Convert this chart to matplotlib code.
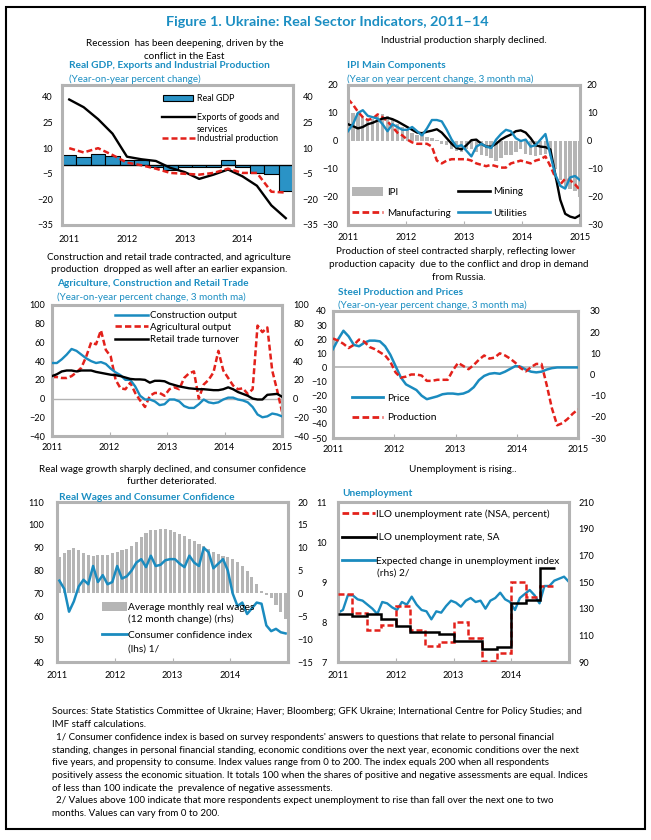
import numpy as np
import matplotlib
matplotlib.use("Agg")
import matplotlib.pyplot as plt
from matplotlib.patches import Patch, Rectangle
from matplotlib.lines import Line2D

plt.rcParams['font.family'] = ['Lato', 'DejaVu Sans']

# ---------------- data ----------------
quarters = ["2011Q1", "2011Q2", "2011Q3", "2011Q4", "2012Q1", "2012Q2", "2012Q3", "2012Q4",
            "2013Q1", "2013Q2", "2013Q3", "2013Q4", "2014Q1", "2014Q2", "2014Q3", "2014Q4"]
real_gdp = [5.9, 4.6, 6.6, 5.2, 3.0, 3.0, -1.3, -2.5, -1.1, -1.2, -1.2, 3.3, -1.1, -4.6, -5.3, -14.8]
exports = [38.5, 34, 27, 18.5, 5, 3.5, 2.5, -1.5, -4, -8, -5.5, -2.5, -6.5, -12, -23.5, -31]
ind_prod = [10, 7.5, 10, 6, 1.5, 0, -2, -4.5, -5, -5.5, -4.5, -2, -4.5, -4.5, -15.5, -16]

ipi = [11, 10, 10, 9, 8, 8, 9, 9.5, 9, 8, 6, 5, 4, 3, 2, 2, 1.5, 1, 0.5, -1,
       -1.5, -3, -3.5, -4, -3, -3, -4, -5, -5.5, -6, -7, -6, -5, -5, -4, -3, -4.5, -5, -5.5, -5,
       -4.5, -5.5, -10, -14, -16.5, -17, -18, -20]
mining = [6, 5.3, 4.5, 5, 6, 6.5, 7.3, 8, 8.3, 7.8, 7, 6, 5, 4, 3, 2.8, 3.3, 3.7, 4.2, 3,
          1, -1, -2.5, -3, -1.5, 0.3, 0.5, -1, -2, -2, -1, 0.5, 1.5, 2.3, 3.5, 3.8, 3, 1, -1.5, -2,
          -2.2, -3, -12, -21, -26, -27, -27.5, -26.5]
manufacturing = [15, 13, 10.5, 8.5, 7.5, 8, 9.5, 8.5, 7, 5, 3, 2, 0.5, -0.5, -1, -1, -1, -2, -7, -8,
                 -7, -6.5, -6.5, -6.5, -6.5, -7, -8, -8.5, -9, -8.5, -9, -9.5, -9.5, -8, -7.5, -7, -7.5, -8, -7, -6.5,
                 -5.5, -9, -13, -15.5, -13.5, -14, -15.5, -17.5]
utilities = [3.5, 6, 10, 11, 9, 8.5, 8, 6, 3.5, 6, 5, 4, 4, 5, 3.5, 2, 4.5, 7.5, 7.5, 7,
             4, 0.5, -2, -1.5, -3.5, -5.5, -2, -1, -2, -2.5, 0.5, 2.5, 4, 3.5, 1, 0, 0.5, -2, -1.5, 0.5,
             2.5, -5, -12, -16, -17, -13, -12.5, -14]

construction = [38, 38, 42, 47, 53, 51, 47, 43, 40, 38, 39, 37, 32, 28, 25, 20, 20, 13, 3, -1,
                -1, -3, -7, -6, -1, -1, -3, -8, -10, -10, -6, -1, -4, -5, -4, -1, 1, 1, -1, -2,
                -4, -9, -17, -20, -19, -16, -17, -19]
agriculture = [23, 23, 22, 22, 24, 28, 33, 45, 60, 58, 73, 52, 45, 20, 11, 10, 17, 6, -2, -9,
               3, 6, 6, 3, 10, 12, 10, 22, 27, 29, 0, 15, 20, 28, 51, 30, 22, 14, 10, 11,
               5, 10, 78, 71, 76, 30, 9, -14]
retail = [24, 26, 29, 30, 30, 29, 30, 30, 30, 28.5, 27.5, 26.5, 25.5, 25, 24, 22.5, 21, 20.5, 20.5, 20,
          17, 19, 19, 18.5, 16, 14.5, 13, 12, 11, 10.5, 10, 10, 9.5, 9, 9, 10, 12, 10, 7, 5,
          3, 0, -1, -1, 4, 4.5, 5, 2]

steel_price = [13, 20, 26, 22, 16, 15, 17.5, 19, 19, 18.5, 15, 9, 1, -7, -12, -14, -16, -20, -22.5, -21.5,
               -20.5, -19, -18.5, -18.5, -19, -18.5, -17, -14, -9, -6, -4.5, -4, -4.5, -3, -1, 1, 0.5, -1.5, -3, -3.5,
               -3, -1.5, -0.5, 0, 0, 0, 0, 0]
steel_prod = [17, 16, 14.5, 12.5, 14, 16.5, 15.5, 13, 12, 10.5, 9, 6, 1, -1.5, -1, 0, 0, -0.5, -3, -3,
              -2.5, -2.5, -2.5, 2, 5.5, 4, 2.5, 4.5, 7, 9, 7.5, 8, 10, 9, 7.5, 5.5, 3, 1.5, 3.5, 5,
              5, -5, -16, -24, -23, -21, -18.5, -16.5]

real_wages = [8.0, 8.8, 9.5, 10.0, 9.6, 8.8, 8.4, 8.2, 8.3, 8.4, 8.5, 8.8, 9.1, 9.4, 9.8, 10.4, 11.3, 12.4, 13.3, 13.8,
              13.9, 14.1, 14.2, 13.9, 13.4, 13.1, 12.6, 12.0, 11.4, 10.8, 10.4, 9.8, 9.1, 8.6, 8.2, 7.9, 7.6, 6.9, 6.1, 5.0,
              3.6, 2.0, 0.5, -0.3, -1.0, -2.5, -4.0, -5.5]
cons_conf = [75.6, 72, 62, 66.5, 73, 76, 74, 82, 75, 78, 74, 75, 82, 76.5, 77.5, 80, 83.5, 85, 81.5, 86.5,
             82, 82.5, 84.5, 85, 85, 83, 81.5, 86.5, 83.5, 82, 90, 88, 81, 83, 85, 80, 70, 64.5, 66, 61,
             63.5, 66, 65.5, 56, 53.5, 54.5, 53, 52.5]

ilo_nsa = [8.7, 8.22, 7.8, 7.93, 8.39, 7.8, 7.39, 7.51, 8.01, 7.6, 7.02, 7.22, 9.0, 8.63, 8.9]
ilo_sa = [8.2, 8.16, 8.2, 8.08, 7.91, 7.76, 7.74, 7.7, 7.53, 7.53, 7.33, 7.37, 8.47, 8.54, 9.34]
exp_unemp = [127, 129, 140, 140, 137, 136, 133, 130, 126, 135, 134, 131, 129, 135, 133, 139, 133, 129, 128, 122,
             128, 127, 132, 136, 134.5, 131.5, 136, 138, 135, 136, 130, 136, 138, 142, 137, 135, 129, 138, 141, 144,
             140, 134, 147, 147, 151, 152.5, 154, 150]

years4 = ["2011", "2012", "2013", "2014"]
years5 = ["2011", "2012", "2013", "2014", "2015"]

# ---------------- style ----------------
W, H = 651, 840
BLUE = '#1a8bbf'
TITLE_BLUE = '#1b8ec2'
RED = '#e3211b'
GRAYBAR = '#b5b5b5'
FRAME = '#b3b3b3'
GDPBLUE = '#2a93c6'
DASH = (0, (2.4, 1.2))
TS = 6.6

fig = plt.figure(figsize=(W / 100, H / 100), dpi=100)
fig.patch.set_facecolor('white')
renderer = fig.canvas.get_renderer()


def add_ax(l, t, r, b):
    ax = fig.add_axes([l / W, 1 - b / H, (r - l) / W, (b - t) / H])
    ax.patch.set_visible(False)
    for sp in ax.spines.values():
        sp.set_color(FRAME)
        sp.set_linewidth(2.2)
    ax.tick_params(axis='y', length=0, labelsize=TS)
    ax.tick_params(axis='x', direction='in', length=3, color=FRAME, labelsize=TS)
    tw = ax.twinx()
    tw.patch.set_visible(False)
    for sp in tw.spines.values():
        sp.set_visible(False)
    tw.tick_params(axis='y', length=0, labelsize=TS)
    return ax, tw


def ftext(x, y, s, size=7, width=None, ha='left', **kw):
    t = fig.text(x / W, 1 - y / H, s, fontsize=size, ha=ha, va='center', **kw)
    if width:
        w = t.get_window_extent(renderer).width
        t.set_fontsize(size * width / w)
    return t


def fit_size(s, width, size=7, **kw):
    t = fig.text(0, 0, s, fontsize=size, **kw)
    w = t.get_window_extent(renderer).width
    t.remove()
    return size * width / w


def key(handle, label, x, y, fs, hl_px, tp_px, hh=0.7):
    fpx = fs * 100 / 72
    fig.legend([handle], [label], loc='center left', bbox_to_anchor=(x / W, 1 - y / H),
               bbox_transform=fig.transFigure, frameon=False, borderpad=0, borderaxespad=0,
               handlelength=hl_px / fpx, handletextpad=tp_px / fpx, handleheight=hh, fontsize=fs)


# ---------------- title & subtitles ----------------
ftext(327, 21.5, "Figure 1. Ukraine: Real Sector Indicators, 2011\u201314", size=10, width=322,
      ha='center', fontweight='bold', color=TITLE_BLUE)

sub_fs = fit_size("Real wage growth sharply declined, and consumer confidence", 267)
ftext(185, 44, "Recession  has been deepening, driven by the", sub_fs, ha='center')
ftext(184, 56.5, "conflict in the East", sub_fs, ha='center')
ftext(464, 40.5, "Industrial production sharply declined.", sub_fs, ha='center')
ftext(169, 257.5, "Construction and retail trade contracted, and agriculture", sub_fs, ha='center')
ftext(169, 269, "production  dropped as well after an earlier expansion.", sub_fs, ha='center')
ftext(456, 252, "Production of steel contracted sharply, reflecting lower", sub_fs, ha='center')
ftext(459, 264.5, "production capacity  due to the conflict and drop in demand", sub_fs, ha='center')
ftext(459, 277, "from Russia.", sub_fs, ha='center')
ftext(173, 470, "Real wage growth sharply declined, and consumer confidence", sub_fs, ha='center')
ftext(172, 482, "further deteriorated.", sub_fs, ha='center')
ftext(463, 469, "Unemployment is rising..", sub_fs, ha='center')

pt_fs = fit_size("Real GDP, Exports and Industrial Production", 202, fontweight='bold')
pu_fs = fit_size("(Year-on-year percent change, 3 month ma)", 188)
ftext(69, 66, "Real GDP, Exports and Industrial Production", pt_fs, fontweight='bold', color=TITLE_BLUE)
ftext(69, 79, "(Year-on-year percent change)", pu_fs, color=TITLE_BLUE)
ftext(347, 65, "IPI Main Components", pt_fs, fontweight='bold', color=TITLE_BLUE)
ftext(347, 79, "(Year on year percent change, 3 month ma)", pu_fs, color=TITLE_BLUE)
ftext(57, 284, "Agriculture, Construction and Retail Trade", pt_fs, fontweight='bold', color=TITLE_BLUE)
ftext(57, 297.5, "(Year-on-year percent change, 3 month ma)", pu_fs, color=TITLE_BLUE)
ftext(338, 292.5, "Steel Production and Prices", pt_fs, fontweight='bold', color=TITLE_BLUE)
ftext(338, 305, "(Year-on-year percent change, 3 month ma)", pu_fs, color=TITLE_BLUE)
ftext(59, 497.5, "Real Wages and Consumer Confidence", pt_fs, fontweight='bold', color=TITLE_BLUE)
ftext(342, 493, "Unemployment", pt_fs, fontweight='bold', color=TITLE_BLUE)

# ---------------- panel 1 ----------------
a1, b1 = add_ax(62, 85, 293, 225)
q = np.arange(len(quarters))
a1.bar(q, real_gdp, width=1.0, color=GDPBLUE, edgecolor='black', linewidth=0.8, zorder=2)
a1.axhline(0, color='black', lw=0.9, zorder=2.5)
a1.plot(q, exports, color='black', lw=1.7, zorder=3)
a1.plot(q, ind_prod, color=RED, lw=1.8, ls=DASH, zorder=4)
yt1 = [40, 25, 10, -5, -20, -35]
for ax in (a1, b1):
    ax.set_ylim(-35, 47)
    ax.set_yticks(yt1)
a1.set_xlim(-0.5, len(quarters) - 0.5)
a1.set_xticks(q[::4])
a1.set_xticklabels(years4)
a1.tick_params(axis='x', length=0, pad=7)
a1.tick_params(axis='y', pad=6.5)
b1.tick_params(axis='y', pad=7)
key(Patch(facecolor=GDPBLUE, edgecolor='black', lw=0.8), "Real GDP", 163, 98.5, 6.4, 30, 4, hh=0.6)
key(Line2D([], [], color='black', lw=1.7), "Exports of goods and", 162, 117.5, 6.4, 33, 2)
ftext(197, 129.5, "services", 6.4)
key(Line2D([], [], color=RED, lw=1.8, ls=DASH), "Industrial production", 162, 138.5, 6.4, 33, 2)

# ---------------- panel 2 ----------------
a2, b2 = add_ax(348, 85, 580, 225)
xm = np.linspace(2011, 2015, len(ipi))
a2.bar(xm, ipi, width=0.058, color=GRAYBAR, zorder=1)
a2.plot(xm, mining, color='black', lw=1.7, zorder=3)
a2.plot(xm, manufacturing, color=RED, lw=1.8, ls=DASH, zorder=2)
a2.plot(xm, utilities, color=BLUE, lw=1.7, zorder=4)
for ax in (a2, b2):
    ax.set_ylim(-30, 20)
    ax.set_yticks(np.arange(-30, 21, 10))
a2.set_xlim(2011, 2015)
a2.set_xticks(np.arange(2011, 2016))
a2.set_xticklabels(years5)
a2.tick_params(axis='x', pad=6)
a2.tick_params(axis='y', pad=7)
b2.tick_params(axis='y', pad=5)
key(Patch(facecolor=GRAYBAR, edgecolor='none'), "IPI", 352, 192, 7.1, 31, 4, hh=0.95)
key(Line2D([], [], color='black', lw=1.9), "Mining", 458, 192, 7.1, 32, 3)
key(Line2D([], [], color=RED, lw=2.0, ls=DASH), "Manufacturing", 352, 213, 7.1, 31, 4)
key(Line2D([], [], color=BLUE, lw=1.9), "Utilities", 458, 213, 7.1, 32, 3)

# ---------------- panel 3 ----------------
a3, b3 = add_ax(52, 305, 282, 436)
xm3 = np.linspace(2011, 2015, len(construction))
a3.axhline(0, color=FRAME, lw=1.0, zorder=1)
a3.plot(xm3, construction, color=BLUE, lw=1.7, zorder=3)
a3.plot(xm3, agriculture, color=RED, lw=1.8, ls=DASH, zorder=2)
a3.plot(xm3, retail, color='black', lw=1.7, zorder=4)
for ax in (a3, b3):
    ax.set_ylim(-40, 100)
    ax.set_yticks(np.arange(-40, 101, 20))
a3.set_xlim(2011, 2015)
a3.set_xticks(np.arange(2011, 2016))
a3.set_xticklabels(years5)
a3.tick_params(axis='x', pad=5)
a3.tick_params(axis='y', pad=5)
b3.tick_params(axis='y', pad=8)
key(Line2D([], [], color=BLUE, lw=1.8), "Construction output", 115, 315.5, 7.0, 33, 2)
key(Line2D([], [], color=RED, lw=1.9, ls=DASH), "Agricultural output", 115, 327, 7.0, 33, 2)
key(Line2D([], [], color='black', lw=1.8), "Retail trade turnover", 115, 339.5, 7.0, 33, 2)

# ---------------- panel 4 ----------------
a4, b4 = add_ax(333, 311, 578, 438)
xm4 = np.linspace(2011, 2015, len(steel_price))
a4.axhline(0, color=FRAME, lw=1.2, zorder=1)
a4.plot(xm4, steel_price, color=BLUE, lw=1.8, zorder=3)
b4.plot(xm4, steel_prod, color=RED, lw=1.8, ls=DASH, zorder=3)
a4.set_ylim(-50, 40)
a4.set_yticks(np.arange(-50, 41, 10))
b4.set_ylim(-30, 30)
b4.set_yticks(np.arange(-30, 31, 10))
a4.set_xlim(2011, 2015)
a4.set_xticks(np.arange(2011, 2016))
a4.set_xticklabels(years5)
a4.tick_params(axis='x', pad=5)
a4.tick_params(axis='y', pad=4.5)
b4.tick_params(axis='y', pad=8.5)
key(Line2D([], [], color=BLUE, lw=2.0), "Price", 352, 398, 7.4, 31, 4)
key(Line2D([], [], color=RED, lw=2.0, ls=DASH), "Production", 352, 417.5, 7.4, 31, 4)

# ---------------- panel 5 ----------------
a5, b5 = add_ax(57, 502, 288, 662)
xm5 = 2011 + (np.arange(len(real_wages)) + 0.5) / 12
b5.bar(xm5, real_wages, width=0.055, color=GRAYBAR, zorder=1)
a5.plot(xm5, cons_conf, color=BLUE, lw=1.8, zorder=3)
a5.set_zorder(b5.get_zorder() + 1)
a5.set_ylim(40, 110)
a5.set_yticks(np.arange(40, 111, 10))
b5.set_ylim(-15, 20)
b5.set_yticks(np.arange(-15, 21, 5))
a5.set_xlim(2011, 2015)
a5.set_xticks(np.arange(2011, 2015))
a5.set_xticklabels(years4)
a5.tick_params(axis='x', pad=6.5)
a5.tick_params(axis='y', pad=9)
b5.tick_params(axis='y', pad=7)
key(Patch(facecolor=GRAYBAR, edgecolor='none'), "Average monthly real wages", 102, 607, 7.3, 25, 1, hh=0.9)
ftext(128, 619.5, "(12 month change) (rhs)", 7.3)
key(Line2D([], [], color=BLUE, lw=2.0), "Consumer confidence index", 102, 635, 7.3, 25, 1)
ftext(128, 649, "(lhs) 1/", 7.3)

# ---------------- panel 6 ----------------
a6, b6 = add_ax(338, 502, 569, 662)
qedges = 2011 + np.arange(len(ilo_sa) + 1) / 4
xm6 = np.linspace(2011, 2015, len(exp_unemp))
b6.plot(xm6, exp_unemp, color=BLUE, lw=1.7, zorder=2)
a6.stairs(ilo_nsa, qedges, baseline=None, color=RED, lw=1.8, ls=DASH, zorder=3)
a6.stairs(ilo_sa, qedges, baseline=None, color='black', lw=1.8, zorder=4)
a6.set_zorder(b6.get_zorder() + 1)
a6.set_ylim(7, 11)
a6.set_yticks(np.arange(7, 12, 1))
b6.set_ylim(90, 210)
b6.set_yticks(np.arange(90, 211, 20))
a6.set_xlim(2011, 2015)
a6.set_xticks(np.arange(2011, 2015))
a6.set_xticklabels(years4)
a6.tick_params(axis='x', pad=6.5)
a6.tick_params(axis='y', pad=8)
b6.tick_params(axis='y', pad=6.5)
key(Line2D([], [], color=RED, lw=2.0, ls=DASH), "ILO unemployment rate (NSA, percent)", 342, 514, 7.3, 33, 1)
key(Line2D([], [], color='black', lw=2.0), "ILO unemployment rate, SA", 342, 537.5, 7.3, 33, 1)
key(Line2D([], [], color=BLUE, lw=2.0), "Expected change in unemployment index", 342, 561, 7.3, 33, 1)
ftext(377, 573, "(rhs) 2/", 7.3)

# ---------------- footnotes ----------------
fn_fs = fit_size("positively assess the economic situation. It totals 100 when the shares of positive and "
                 "negative assessments are equal. Indices", 538)
notes = [
    (51.5, "Sources: State Statistics Committee of Ukraine; Haver; Bloomberg; GFK Ukraine; International Centre for Policy Studies; and"),
    (51.5, "IMF staff calculations."),
    (56, "1/ Consumer confidence index is based on survey respondents' answers to questions that relate to personal financial"),
    (51.5, "standing, changes in personal financial standing, economic conditions over the next year, economic conditions over the next"),
    (51.5, "five years, and propensity to consume. Index values range from 0 to 200. The index equals 200 when all respondents"),
    (51.5, "positively assess the economic situation. It totals 100 when the shares of positive and negative assessments are equal. Indices"),
    (51.5, "of less than 100 indicate the  prevalence of negative assessments."),
    (56, "2/ Values above 100 indicate that more respondents expect unemployment to rise than fall over the next one to two"),
    (51.5, "months. Values can vary from 0 to 200."),
]
for i, (x, s) in enumerate(notes):
    ftext(x, 712 + i * 12.7, s, fn_fs)

# outer border
fig.add_artist(Rectangle((6 / W, 1 - 829 / H), (645 - 6) / W, (829 - 7) / H,
                         transform=fig.transFigure, fill=False, edgecolor='black', lw=1.5))

fig.savefig("out.png", dpi=100, facecolor='white')
